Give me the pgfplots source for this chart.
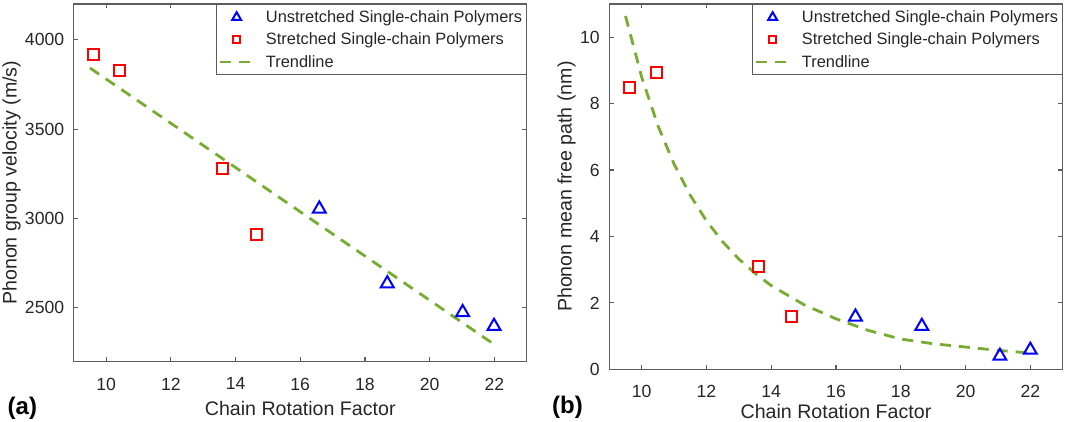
\documentclass[border=0pt]{standalone}
\usepackage{pgfplots}
\pgfplotsset{compat=1.18}
\usepackage{fontspec}
\setmainfont{Liberation Sans}
\definecolor{axgray}{rgb}{0.36,0.36,0.36}
\definecolor{txt}{rgb}{0.15,0.15,0.15}
\definecolor{trend}{rgb}{0.466,0.674,0.188}
\definecolor{mblue}{rgb}{0,0,1}
\definecolor{mred}{rgb}{1,0,0}
\pgfplotsset{
 myax/.style={
  scale only axis, anchor=south west,
  xmin=9, xmax=23, xtick={10,12,...,22},
  axis line style={axgray, line width=0.6pt},
  tick style={axgray, line width=0.6pt},
  major tick length=2.2pt,
  tick align=inside,
  /pgf/number format/assume math mode=true,
  /pgf/number format/1000 sep={},
  tick label style={font=\fontsize{8.8}{10}\selectfont, text=txt},
  xticklabel style={yshift=-4.6pt},
  yticklabel style={xshift=-1.3pt},
  label style={font=\fontsize{9.8}{11}\selectfont, text=txt},
  xlabel={Chain Rotation Factor},
  legend cell align=left,
  legend style={at={(1,1)}, anchor=north east, draw=axgray, line width=0.6pt,
    font=\fontsize{8.2}{9.5}\selectfont, text=txt, inner xsep=1pt, inner ysep=1.5pt,
    row sep=1.35pt,
    nodes={inner xsep=1pt, inner ysep=0.5pt, text height=7pt, text depth=1.8pt},
    /tikz/every odd column/.append style={column sep=4.6pt}},
 },
 tri/.style={only marks, mark=triangle, mark size=3.7pt, mblue, line width=1pt,
   legend image code/.code={\draw[##1, mark size=2.6pt] plot coordinates {(8.35pt,0pt)};}},
 sq/.style={only marks, mark=square, mark size=2.75pt, mred, line width=1pt,
   legend image code/.code={\draw[##1, mark size=1.7pt] plot coordinates {(8.35pt,0pt)};}},
 tr/.style={trend, line width=1.4pt, dash pattern=on 5.5pt off 4pt,
   legend image code/.code={\draw[##1] (0pt,0pt) -- (16.7pt,0pt);}},
}
\begin{document}
\begin{tikzpicture}
\useasboundingbox (0,0) rectangle (533pt,211pt);
\begin{axis}[myax, at={(36.9pt,30.25pt)}, width=226.45pt, height=178.75pt,
  ymin=2200, ymax=4200, ytick={2500,3000,3500,4000},
  ylabel={Phonon group velocity (m/s)},
  xlabel style={at={(axis description cs:0.5,-0.1497)}, anchor=base},
  ylabel style={at={(axis description cs:-0.1265,0.5)}, anchor=base}]
\addplot[tri] coordinates {(16.59,3054) (18.69,2636) (21.02,2475) (21.99,2398)};
\addlegendentry{Unstretched Single-chain Polymers}
\addplot[sq] coordinates {(9.60,3916) (10.41,3827) (13.59,3277) (14.64,2913)};
\addlegendentry{Stretched Single-chain Polymers}
\addplot[tr] coordinates {(9.5,3842) (22,2295)};
\addlegendentry{Trendline}
\end{axis}
\begin{axis}[myax, at={(304.65pt,26.35pt)}, width=226.7pt, height=182.65pt,
  ymin=0, ymax=11, ytick={0,2,...,10},
  ylabel={Phonon mean free path (nm)},
  xlabel style={at={(axis description cs:0.5,-0.1341)}, anchor=base},
  ylabel style={at={(axis description cs:-0.0829,0.5)}, anchor=base}]
\addplot[tri] coordinates {(16.60,1.58) (18.65,1.30) (21.06,0.40) (22.0,0.58)};
\addlegendentry{Unstretched Single-chain Polymers}
\addplot[sq] coordinates {(9.63,8.48) (10.45,8.93) (13.60,3.09) (14.64,1.60)};
\addlegendentry{Stretched Single-chain Polymers}
\addplot[tr] coordinates {(9.5,10.64) (10,8.80) (10.5,7.34) (11,6.18) (11.5,5.24) (12,4.47) (12.5,3.84) (13,3.32) (13.5,2.89) (14,2.52) (15,1.95) (16,1.52) (17,1.17) (18,0.91) (19,0.77) (20,0.67) (21,0.57) (22,0.49)};
\addlegendentry{Trendline}
\end{axis}
\node[anchor=base west, inner sep=0pt, font=\fontsize{12}{14}\selectfont\bfseries] at (3.65pt,3.75pt) {(a)};
\node[anchor=base west, inner sep=0pt, font=\fontsize{12}{14}\selectfont\bfseries] at (275.85pt,4.25pt) {(b)};
\end{tikzpicture}
\end{document}
